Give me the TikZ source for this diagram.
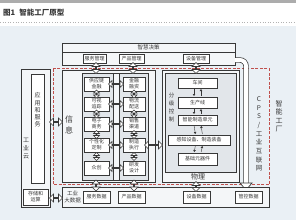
\documentclass[tikz,border=0pt]{standalone}
\usepackage{fontspec}
\setmainfont{Noto Sans CJK SC}
\usetikzlibrary{shapes.arrows,calc,arrows.meta}
\definecolor{bgc}{HTML}{EAF0F5}
\definecolor{linec}{HTML}{383838}
\definecolor{framec}{HTML}{F4F6F8}
\definecolor{contc}{HTML}{E2E6EA}
\definecolor{redc}{HTML}{C0504D}
\newcommand\bx[7]{\node[#1, anchor=north west, minimum width={(#5)-(#3)}, minimum height={(#6)-(#4)}, inner sep=0pt, outer sep=0pt] (#2) at (#3,#4) {#7};}
\tikzset{
  frame/.style={draw=linec, line width=0.8pt, fill=framec},
  cont/.style={draw=linec, line width=0.8pt, fill=contc},
  item/.style={draw=linec, line width=1pt, fill=white, align=center, font=\fontsize{5}{6}\selectfont, text=linec},
  lbl/.style={align=center, text=linec, inner sep=0pt},
  dbl/.style={double arrow, draw=linec, fill=white, line width=0.6pt, minimum width=8pt, double arrow head extend=2pt, inner sep=0pt, outer sep=0pt},
  sdbl/.style={dbl, minimum width=6pt, double arrow head extend=1.5pt},
  sa/.style={-{Triangle[length=2pt,width=2.5pt]}, line width=0.4pt, draw=linec, shorten >=1pt, shorten <=1pt},
  pipe/.style={draw=linec, line width=0.7pt, double=white, double distance=4pt, rounded corners=6pt}
}
\begin{document}
\begin{tikzpicture}[x=1pt,y=-1pt]
\useasboundingbox (0,0) rectangle (296,220);
% background and title
\fill[white] (0,0) rectangle (296,26);
\fill[bgc] (0,26) rectangle (296,220);
\fill[gray!65] (0,0) rectangle (296,3);
\node[anchor=west, inner sep=0pt, text=linec, font=\fontsize{7.5}{9}\selectfont\bfseries] (title) at (3,13) {图1\hspace{4pt}智能工厂原型};
\draw[gray!60, dotted, line width=0.6pt] (0,22) -- (296,22);

% red dashed CPS region
\draw[redc, dashed, line width=0.8pt, dash pattern=on 3pt off 1.5pt] (53,68.5) rectangle (269,184.5);

% top box
\bx{frame}{top}{62}{43}{235}{65}{}
\draw[linec, line width=0.8pt] (top.west |- 0,52) -- (top.east |- 0,52);
\node[lbl, font=\fontsize{5.5}{6}\selectfont] (zhjc) at (148.5,47.5) {智慧决策};
\bx{item}{fwgl}{83}{54}{106}{63}{服务管理}
\bx{item}{cpgl}{119}{54}{144}{63}{产品管理}
\bx{item}{sbgl}{183}{54}{209}{63}{设备管理}

% pipe arrow to 管控数据
\coordinate (pipeend) at (246,183);
\draw[pipe] ([yshift=-6pt]top.east) -- ++(11,0) -- (pipeend);
\draw[linec, line width=0.7pt, fill=white] (240,183) -- (252,183) -- (246,190) -- cycle;

% industrial cloud
\bx{frame}{yun}{21}{69}{50}{207}{}
\bx{item}{yyfw}{31}{74}{44}{183}{}
\node[lbl, font=\fontsize{6}{7.3}\selectfont] (yyfwt) at (37.5,110) {应\\用\\和\\服\\务};
\node[lbl, font=\fontsize{6}{8}\selectfont] (yunt) at (26,149) {工\\业\\云};
\bx{item}{ccys}{23}{189}{48}{205}{存储和\\运算}

% information block
\bx{frame}{info}{62}{70.5}{155}{182}{}
\node[lbl, font=\fontsize{8}{11}\selectfont] (infot) at (69,125) {信\\息};
\bx{cont}{infoin}{82}{73}{148}{180}{}
\bx{frame}{chan}{113.5}{73}{119.5}{180}{}
% left column
\bx{item}{l1}{84}{77}{109}{91}{供应链\\金融}
\bx{item}{l2}{84}{97}{109}{111}{可视\\追踪}
\bx{item}{l3}{84}{117}{109}{131}{电子\\商务}
\bx{item}{l4}{84}{138}{109}{152}{个性化\\定制}
\bx{item}{l5}{84}{161}{109}{175}{众创}
% right column
\bx{item}{r1}{123}{77}{145}{91}{金融\\融资}
\bx{item}{r2}{123}{97}{145}{111}{物流\\配送}
\bx{item}{r3}{123}{117}{145}{131}{销售\\渠道}
\bx{item}{r4}{123}{138}{145}{152}{制造\\执行}
\bx{item}{r5}{123}{161}{145}{175}{研发\\设计}

% physical block
\bx{frame}{phys}{162}{70.5}{239}{182}{}
\bx{cont}{physin}{165}{73}{236}{172}{}
\node[lbl, font=\fontsize{7}{8}\selectfont] (physt) at (198,177) {物理};
\node[lbl, font=\fontsize{5.5}{8}\selectfont] (fjkz) at (171.5,107) {分\\级\\控\\制};
\bx{item}{cj}{178}{78}{217}{88}{车间}
\bx{item}{scx}{178}{97}{217}{108}{生产线}
\bx{item}{znzz}{178}{115}{217}{125}{智能制造单元}
\bx{item}{gzsb}{168}{135}{230}{145}{感知设备、制造装备}
\bx{item}{jcyq}{178}{153}{217}{165}{基础元器件}
\foreach \a/\b in {cj/scx, scx/znzz, znzz/gzsb, gzsb/jcyq}{
  \draw[sa] ([xshift=-3.5pt]\a.south) -- ([xshift=-3.5pt]\b.north);
  \draw[sa] ([xshift=3.5pt]\b.north) -- ([xshift=3.5pt]\a.south);
}

% big data block
\bx{frame}{bd}{62}{187}{269}{207}{}
\node[lbl, font=\fontsize{5.5}{6.5}\selectfont] (bdt) at (72.5,197) {工业\\大数据};
\bx{item}{fwsj}{83}{191}{110}{203}{服务数据}
\bx{item}{cpsj}{118}{191}{145}{203}{产品数据}
\bx{item}{sbsj}{183}{191}{210}{203}{设备数据}
\bx{item}{gksj}{235}{191}{262}{203}{管控数据}

% vertical labels right
\node[lbl, font=\fontsize{6.5}{8.7}\selectfont] (cps) at (259,134) {C\\P\\S\\/\\工\\业\\互\\联\\网};
\node[lbl, font=\fontsize{7}{8.5}\selectfont] (znfc) at (279,116.5) {智\\能\\工\\厂};

% block double arrows
\node[dbl, rotate=90, minimum height=11pt] (a1) at (96,68) {};
\node[dbl, rotate=90, minimum height=11pt] (a2) at (133,68) {};
\node[dbl, rotate=90, minimum height=11pt] (a3) at (196,68) {};
\node[dbl, rotate=90, minimum height=11pt] (a4) at (96,185.5) {};
\node[dbl, rotate=90, minimum height=11pt] (a5) at (134,185.5) {};
\node[dbl, rotate=90, minimum height=10pt] (a6) at (196,186.5) {};
\foreach \y [count=\i] in {84,104,124,145,168}{
  \node[dbl, minimum height=15pt, minimum width=7pt] (h\i) at (116,\y) {};
}
\foreach \y [count=\i] in {94,114,134.5,156.5}{
  \node[sdbl, rotate=90, minimum height=8pt] (vl\i) at (96.5,\y) {};
  \node[sdbl, rotate=90, minimum height=8pt] (vr\i) at (134,\y) {};
}
\node[dbl, minimum height=18pt] (ap) at (153.5,145) {};
\node[dbl, minimum height=13pt] (ay) at (56,122) {};
\node[dbl, minimum height=13pt] (ab) at (56,198) {};
\end{tikzpicture}
\end{document}
